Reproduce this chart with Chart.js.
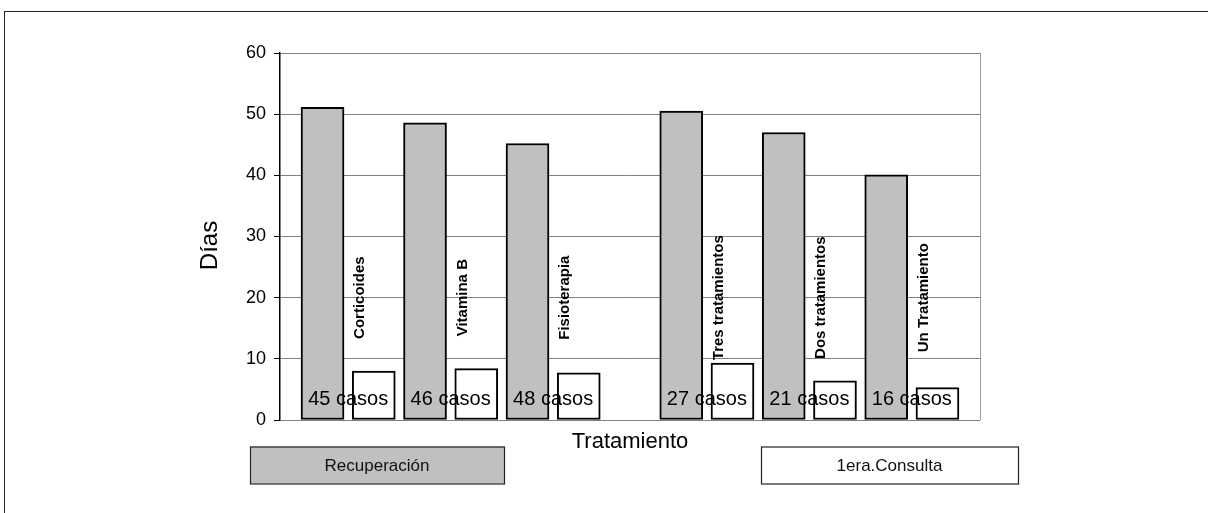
<!DOCTYPE html>
<html lang="es">
<head>
<meta charset="UTF-8">
<title>Días por tratamiento</title>
<script src="https://cdn.jsdelivr.net/npm/chart.js@4.4.1/dist/chart.umd.min.js"></script>
<style>
  html, body { margin: 0; padding: 0; background: #fff; overflow: hidden; }
  #wrap { position: relative; width: 1208px; height: 513px; overflow: hidden; }
  #frame { position: absolute; left: 4px; top: 11px; width: 1260px; height: 560px; border: 1px solid #222; }
  #chart { position: absolute; left: 0; top: 0; }
</style>
</head>
<body>
<div id="wrap">
  <div id="frame"></div>
  <canvas id="chart" width="1208" height="513"></canvas>
</div>
<script>
// datos
const categories = ['Corticoides', 'Vitamina B', 'Fisioterapia', 'Tres tratamientos', 'Dos tratamientos', 'Un Tratamiento'];
const recuperacion = [51.1, 48.6, 45.2, 50.5, 47.0, 40.1];
const primeraConsulta = [8.0, 8.4, 7.7, 9.3, 6.4, 5.3];
const casos = [45, 46, 48, 27, 21, 16];
const seriesNames = ['Recuperación', '1era.Consulta'];
const yTicks = [0, 10, 20, 30, 40, 50, 60];

const FONT = '"Liberation Sans", Arial, Helvetica, sans-serif';

// posicion en el eje: dos barras por tratamiento, hueco despues del tercero
function slot(i) { return 2 * i + (i >= 3 ? 1 : 0); }

const greyData = recuperacion.map((v, i) => ({ x: slot(i), y: v }));
const whiteData = primeraConsulta.map((v, i) => ({ x: slot(i) + 1, y: v }));

const extras = {
  id: 'extras',
  beforeDatasetsDraw(chart) {
    const { ctx, chartArea: a } = chart;
    ctx.save();
    ctx.strokeStyle = '#999';
    ctx.lineWidth = 1;
    ctx.beginPath();
    ctx.moveTo(a.right + 0.5, a.top);
    ctx.lineTo(a.right + 0.5, a.bottom);
    ctx.stroke();
    ctx.restore();
  },
  afterDatasetsDraw(chart) {
    const { ctx, chartArea: a, scales: { x, y } } = chart;
    ctx.save();
    ctx.fillStyle = '#000';

    // "45 casos" etc.
    ctx.font = '20px ' + FONT;
    ctx.textAlign = 'center';
    ctx.textBaseline = 'alphabetic';
    casos.forEach((c, i) => {
      ctx.fillText(c + ' casos', x.getPixelForValue(slot(i) + 0.5), y.getPixelForValue(2.5));
    });

    // nombres de tratamiento en vertical
    ctx.font = 'bold 15px ' + FONT;
    ctx.textBaseline = 'middle';
    categories.forEach((name, i) => {
      ctx.save();
      ctx.translate(x.getPixelForValue(slot(i) + 1 - 0.27), y.getPixelForValue(20));
      ctx.rotate(-Math.PI / 2);
      ctx.fillText(name, 0, 0);
      ctx.restore();
    });

    // titulos de ejes
    ctx.font = '24px ' + FONT;
    ctx.save();
    ctx.translate(a.left - 70, (a.top + a.bottom) / 2 + 9);
    ctx.rotate(-Math.PI / 2);
    ctx.fillText('Días', 0, 0);
    ctx.restore();

    ctx.font = '22px ' + FONT;
    ctx.textBaseline = 'alphabetic';
    ctx.fillText('Tratamiento', (a.left + a.right) / 2, a.bottom + 28);

    // leyenda en cajas
    const boxes = [
      { left: a.left - 30, w: 254, fill: '#c0c0c0', text: seriesNames[0] },
      { left: a.left + 481, w: 257, fill: '#ffffff', text: seriesNames[1] }
    ];
    ctx.font = '17px ' + FONT;
    ctx.textBaseline = 'middle';
    boxes.forEach(b => {
      const top = a.bottom + 26.5, h = 37;
      ctx.fillStyle = b.fill;
      ctx.fillRect(b.left, top, b.w, h);
      ctx.strokeStyle = '#222';
      ctx.lineWidth = 1.2;
      ctx.strokeRect(b.left + 0.5, top + 0.5, b.w, h);
      ctx.fillStyle = '#111';
      ctx.fillText(b.text, b.left + b.w / 2, top + h / 2 + 1);
    });
    ctx.restore();
  }
};

new Chart(document.getElementById('chart'), {
  type: 'bar',
  data: {
    datasets: [
      {
        label: seriesNames[0],
        data: greyData,
        backgroundColor: '#c0c0c0',
        borderColor: '#000',
        borderWidth: 2,
        borderSkipped: false,
        barThickness: 43,
        grouped: false
      },
      {
        label: seriesNames[1],
        data: whiteData,
        backgroundColor: '#ffffff',
        borderColor: '#000',
        borderWidth: 2,
        borderSkipped: false,
        barThickness: 43,
        grouped: false
      }
    ]
  },
  options: {
    responsive: false,
    animation: false,
    layout: { padding: { left: 200, top: 53, right: 228, bottom: 93 } },
    plugins: {
      legend: { display: false },
      tooltip: { enabled: false }
    },
    scales: {
      x: {
        type: 'linear',
        min: -0.83,
        max: 12.83,
        offset: false,
        display: false
      },
      y: {
        min: 0,
        max: 60,
        afterBuildTicks(scale) { scale.ticks = yTicks.map(v => ({ value: v })); },
        afterFit(scale) { scale.width = 80; },
        ticks: {
          color: '#000',
          padding: 8,
          font: { family: FONT, size: 18 }
        },
        grid: {
          color: '#808080',
          tickColor: '#000',
          tickLength: 6,
          lineWidth: 1
        },
        border: { color: '#000', width: 1.5 }
      }
    }
  },
  plugins: [extras]
});
</script>
</body>
</html>
